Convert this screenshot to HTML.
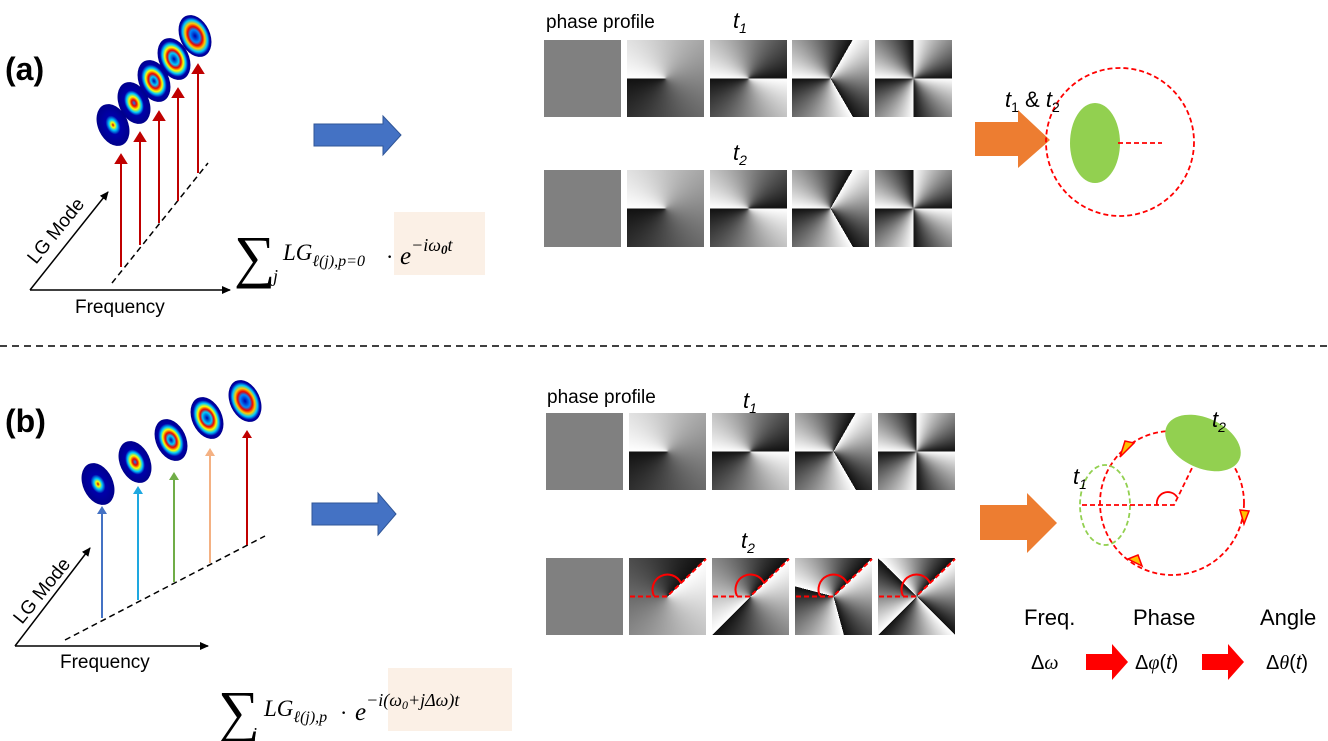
<!DOCTYPE html>
<html><head><meta charset="utf-8"><style>
body{margin:0;width:1328px;height:741px;background:#fff;position:relative;overflow:hidden;font-family:"Liberation Sans",sans-serif}
.t{position:absolute;width:77px;height:77px}
.g{background:#808080}
</style></head><body>
<div class="t g" style="left:544px;top:40px"></div>
<div class="t" style="left:627px;top:40px;background:conic-gradient(from 270deg,#fff,#111)"></div>
<div class="t" style="left:710px;top:40px;background:conic-gradient(from 270deg,#fff,#111 50%,#fff 50%,#111)"></div>
<div class="t" style="left:792px;top:40px;background:conic-gradient(from 270deg,#fff,#111 33.3%,#fff 33.3%,#111 66.6%,#fff 66.6%,#111)"></div>
<div class="t" style="left:875px;top:40px;background:conic-gradient(from 270deg,#fff,#111 25%,#fff 25%,#111 50%,#fff 50%,#111 75%,#fff 75%,#111)"></div>
<div class="t g" style="left:544px;top:170px"></div>
<div class="t" style="left:627px;top:170px;background:conic-gradient(from 270deg,#fff,#111)"></div>
<div class="t" style="left:710px;top:170px;background:conic-gradient(from 270deg,#fff,#111 50%,#fff 50%,#111)"></div>
<div class="t" style="left:792px;top:170px;background:conic-gradient(from 270deg,#fff,#111 33.3%,#fff 33.3%,#111 66.6%,#fff 66.6%,#111)"></div>
<div class="t" style="left:875px;top:170px;background:conic-gradient(from 270deg,#fff,#111 25%,#fff 25%,#111 50%,#fff 50%,#111 75%,#fff 75%,#111)"></div>
<div class="t g" style="left:546px;top:413px"></div>
<div class="t" style="left:629px;top:413px;background:conic-gradient(from 270deg,#fff,#111)"></div>
<div class="t" style="left:712px;top:413px;background:conic-gradient(from 270deg,#fff,#111 50%,#fff 50%,#111)"></div>
<div class="t" style="left:795px;top:413px;background:conic-gradient(from 270deg,#fff,#111 33.3%,#fff 33.3%,#111 66.6%,#fff 66.6%,#111)"></div>
<div class="t" style="left:878px;top:413px;background:conic-gradient(from 270deg,#fff,#111 25%,#fff 25%,#111 50%,#fff 50%,#111 75%,#fff 75%,#111)"></div>
<div class="t g" style="left:546px;top:558px"></div>
<div class="t" style="left:629px;top:558px;background:conic-gradient(from 45deg,#fff,#111)"></div>
<div class="t" style="left:712px;top:558px;background:conic-gradient(from 45deg,#fff,#111 50%,#fff 50%,#111)"></div>
<div class="t" style="left:795px;top:558px;background:conic-gradient(from 45deg,#fff,#111 33.3%,#fff 33.3%,#111 66.6%,#fff 66.6%,#111)"></div>
<div class="t" style="left:878px;top:558px;background:conic-gradient(from 45deg,#fff,#111 25%,#fff 25%,#111 50%,#fff 50%,#111 75%,#fff 75%,#111)"></div>

<svg width="1328" height="741" style="position:absolute;left:0;top:0">
<defs>
<radialGradient id="m1"><stop offset="0" stop-color="#c00"/><stop offset=".12" stop-color="#ff0"/><stop offset=".25" stop-color="#0cf"/><stop offset=".45" stop-color="#00a"/><stop offset="1" stop-color="#00008b"/></radialGradient>
<radialGradient id="m2"><stop offset="0" stop-color="#08f"/><stop offset=".15" stop-color="#e00"/><stop offset=".3" stop-color="#ff0"/><stop offset=".45" stop-color="#0cf"/><stop offset=".6" stop-color="#00a"/><stop offset="1" stop-color="#00008b"/></radialGradient>
<radialGradient id="m3"><stop offset="0" stop-color="#00a"/><stop offset=".2" stop-color="#0cf"/><stop offset=".35" stop-color="#e00"/><stop offset=".5" stop-color="#ff0"/><stop offset=".62" stop-color="#0cf"/><stop offset=".78" stop-color="#00a"/><stop offset="1" stop-color="#00008b"/></radialGradient>
<radialGradient id="m4"><stop offset="0" stop-color="#00a"/><stop offset=".28" stop-color="#0cf"/><stop offset=".42" stop-color="#e00"/><stop offset=".56" stop-color="#ff0"/><stop offset=".7" stop-color="#0cf"/><stop offset=".85" stop-color="#00a"/><stop offset="1" stop-color="#00008b"/></radialGradient>
<radialGradient id="m5"><stop offset="0" stop-color="#00a"/><stop offset=".3" stop-color="#08f"/><stop offset=".45" stop-color="#e00"/><stop offset=".6" stop-color="#fc0"/><stop offset=".75" stop-color="#0cf"/><stop offset=".9" stop-color="#00a"/><stop offset="1" stop-color="#00008b"/></radialGradient>
<marker id="ak" markerWidth="10" markerHeight="10" refX="8" refY="5" orient="auto" markerUnits="userSpaceOnUse"><path d="M0,1 L9,5 L0,9z" fill="#000"/></marker>
</defs>
<line x1="0" y1="346" x2="1328" y2="346" stroke="#000" stroke-width="1.5" stroke-dasharray="7,5"/>

<!-- (a) left -->
<line x1="30" y1="290" x2="230" y2="290" stroke="#000" stroke-width="1.5" marker-end="url(#ak)"/>
<line x1="30" y1="290" x2="108" y2="192" stroke="#000" stroke-width="1.5" marker-end="url(#ak)"/>
<line x1="112" y1="283" x2="208" y2="163" stroke="#000" stroke-width="1.5" stroke-dasharray="6,4"/>
<g stroke="#c00000" stroke-width="2" fill="#c00000">
<line x1="121" y1="267" x2="121" y2="162"/><path d="M116,163 L121,155 L126,163z"/>
<line x1="140" y1="245" x2="140" y2="140"/><path d="M135,141 L140,133 L145,141z"/>
<line x1="159" y1="223" x2="159" y2="119"/><path d="M154,120 L159,112 L164,120z"/>
<line x1="178" y1="201" x2="178" y2="96"/><path d="M173,97 L178,89 L183,97z"/>
<line x1="198" y1="173" x2="198" y2="72"/><path d="M193,73 L198,65 L203,73z"/>
</g>
<ellipse cx="113" cy="125" rx="15" ry="22" transform="rotate(-25 113 125)" fill="url(#m1)"/>
<ellipse cx="134" cy="103" rx="15" ry="22" transform="rotate(-25 134 103)" fill="url(#m2)"/>
<ellipse cx="154" cy="81" rx="15" ry="22" transform="rotate(-25 154 81)" fill="url(#m3)"/>
<ellipse cx="174" cy="59" rx="15" ry="22" transform="rotate(-25 174 59)" fill="url(#m4)"/>
<ellipse cx="195" cy="36" rx="15" ry="22" transform="rotate(-25 195 36)" fill="url(#m5)"/>
<text x="5" y="80" font-size="32" font-weight="bold">(a)</text>
<text x="75" y="313" font-size="19">Frequency</text>
<text transform="translate(36,265) rotate(-51)" font-size="19">LG Mode</text>
<rect x="394" y="212" width="91" height="63" fill="#fbf0e6"/>
<text x="234" y="276" font-size="58" font-family="Liberation Serif,serif">∑</text>
<text x="273" y="282" font-size="18" font-family="Liberation Serif,serif" font-style="italic">j</text>
<text x="283" y="260" font-size="23" font-family="Liberation Serif,serif" font-style="italic">LG<tspan font-size="16" dy="6">ℓ(j),p=0</tspan></text>
<text x="386" y="264" font-size="22" font-family="Liberation Serif,serif">·</text>
<text x="400" y="264" font-size="25" font-family="Liberation Serif,serif" font-style="italic">e<tspan font-size="18" dy="-13">−iω</tspan><tspan font-size="13" dy="3" font-weight="bold">0</tspan><tspan font-size="18" dy="-3">t</tspan></text>

<path d="M314,124 L383,124 L383,116 L401,135 L383,155 L383,146 L314,146z" fill="#4472c4" stroke="#2f5597" stroke-width="1"/>

<text x="546" y="28" font-size="19">phase profile</text>
<text x="733" y="28" font-size="22" font-style="italic">t<tspan font-size="14" dy="5">1</tspan></text>
<text x="733" y="160" font-size="22" font-style="italic">t<tspan font-size="14" dy="5">2</tspan></text>

<!-- (a) right -->
<path d="M975,122 L1018,122 L1018,110 L1050,140 L1018,168 L1018,156 L975,156z" fill="#ed7d31"/>
<circle cx="1120" cy="142" r="74" fill="none" stroke="#f00" stroke-width="1.8" stroke-dasharray="5,3"/>
<ellipse cx="1095" cy="143" rx="25" ry="40" fill="#92d050"/>
<line x1="1118" y1="143" x2="1162" y2="143" stroke="#f00" stroke-width="1.8" stroke-dasharray="5,3"/>
<text x="1005" y="107" font-size="22"><tspan font-style="italic">t</tspan><tspan font-size="14" dy="5">1</tspan><tspan dy="-5"> &amp; </tspan><tspan font-style="italic">t</tspan><tspan font-size="14" dy="5">2</tspan></text>

<!-- (b) left -->
<line x1="15" y1="646" x2="208" y2="646" stroke="#000" stroke-width="1.5" marker-end="url(#ak)"/>
<line x1="15" y1="646" x2="90" y2="548" stroke="#000" stroke-width="1.5" marker-end="url(#ak)"/>
<line x1="65" y1="640" x2="265" y2="536" stroke="#000" stroke-width="1.5" stroke-dasharray="6,4"/>
<g stroke-width="2">
<line x1="102" y1="618" x2="102" y2="512" stroke="#4472c4"/><path d="M97,514 L102,506 L107,514z" fill="#4472c4"/>
<line x1="138" y1="600" x2="138" y2="492" stroke="#1ea8e0"/><path d="M133,494 L138,486 L143,494z" fill="#1ea8e0"/>
<line x1="174" y1="582" x2="174" y2="478" stroke="#70ad47"/><path d="M169,480 L174,472 L179,480z" fill="#70ad47"/>
<line x1="210" y1="563" x2="210" y2="454" stroke="#f4b183"/><path d="M205,456 L210,448 L215,456z" fill="#f4b183"/>
<line x1="247" y1="545" x2="247" y2="436" stroke="#c00000"/><path d="M242,438 L247,430 L252,438z" fill="#c00000"/>
</g>
<ellipse cx="98" cy="484" rx="15" ry="22" transform="rotate(-25 98 484)" fill="url(#m1)"/>
<ellipse cx="135" cy="462" rx="15" ry="22" transform="rotate(-25 135 462)" fill="url(#m2)"/>
<ellipse cx="171" cy="440" rx="15" ry="22" transform="rotate(-25 171 440)" fill="url(#m3)"/>
<ellipse cx="207" cy="418" rx="15" ry="22" transform="rotate(-25 207 418)" fill="url(#m4)"/>
<ellipse cx="245" cy="401" rx="15" ry="22" transform="rotate(-25 245 401)" fill="url(#m5)"/>
<text x="5" y="432" font-size="32" font-weight="bold">(b)</text>
<text x="60" y="668" font-size="19">Frequency</text>
<text transform="translate(22,625) rotate(-51)" font-size="19">LG Mode</text>
<rect x="388" y="668" width="124" height="63" fill="#fbf0e6"/>
<text x="218" y="731" font-size="58" font-family="Liberation Serif,serif">∑</text>
<text x="252" y="740" font-size="18" font-family="Liberation Serif,serif" font-style="italic">j</text>
<text x="264" y="716" font-size="23" font-family="Liberation Serif,serif" font-style="italic">LG<tspan font-size="16" dy="6">ℓ(j),p</tspan></text>
<text x="340" y="720" font-size="22" font-family="Liberation Serif,serif">·</text>
<text x="355" y="720" font-size="25" font-family="Liberation Serif,serif" font-style="italic">e<tspan font-size="18" dy="-14">−i(ω</tspan><tspan font-size="12" dy="3">0</tspan><tspan font-size="18" dy="-3">+jΔω)t</tspan></text>

<path d="M312,503 L378,503 L378,493 L396,514 L378,535 L378,525 L312,525z" fill="#4472c4" stroke="#2f5597" stroke-width="1"/>

<text x="547" y="403" font-size="19">phase profile</text>
<text x="743" y="408" font-size="22" font-style="italic">t<tspan font-size="14" dy="5">1</tspan></text>
<text x="741" y="548" font-size="22" font-style="italic">t<tspan font-size="14" dy="5">2</tspan></text>
<g stroke="#f00" stroke-width="2" fill="none" stroke-dasharray="5,3">
<path d="M630,596.5 L667,596.5 L706,559"/>
<path d="M713,596.5 L750,596.5 L789,559"/>
<path d="M796,596.5 L833,596.5 L872,559"/>
<path d="M879,596.5 L916,596.5 L955,559"/>
</g>
<g stroke="#f00" stroke-width="2" fill="none">
<path d="M654,596 A14,14 0 0 1 681,583"/>
<path d="M737,596 A14,14 0 0 1 764,583"/>
<path d="M820,596 A14,14 0 0 1 847,583"/>
<path d="M903,596 A14,14 0 0 1 930,583"/>
</g>

<!-- (b) right -->
<path d="M980,505 L1027,505 L1027,493 L1057,523 L1027,553 L1027,540 L980,540z" fill="#ed7d31"/>
<circle cx="1172" cy="503" r="72" fill="none" stroke="#f00" stroke-width="1.8" stroke-dasharray="5,3"/>
<ellipse cx="1105" cy="505" rx="25" ry="40" fill="none" stroke="#92d050" stroke-width="1.8" stroke-dasharray="5,3"/>
<ellipse cx="1203" cy="443" rx="40" ry="25" transform="rotate(25 1203 443)" fill="#92d050"/>
<path d="M1082,505 L1174,505 L1193,466" stroke="#f00" stroke-width="1.8" fill="none" stroke-dasharray="5,3"/>
<path d="M1157,505 A11,11 0 0 1 1177,497" stroke="#f00" stroke-width="1.8" fill="none"/>
<path d="M1120,457 L1134,443 L1125,441z" fill="#ffc000" stroke="#f00" stroke-width="1.5"/>
<path d="M1240,510 L1244,524 L1249,511z" fill="#ffc000" stroke="#f00" stroke-width="1.5"/>
<path d="M1142,566 L1128,559 L1138,555z" fill="#ffc000" stroke="#f00" stroke-width="1.5"/>
<text x="1212" y="427" font-size="22" font-style="italic">t<tspan font-size="14" dy="5">2</tspan></text>
<text x="1073" y="484" font-size="22" font-style="italic">t<tspan font-size="14" dy="5">1</tspan></text>
<text x="1024" y="625" font-size="22">Freq.</text>
<text x="1133" y="625" font-size="22">Phase</text>
<text x="1260" y="625" font-size="22">Angle</text>
<text x="1031" y="669" font-size="20">Δ<tspan font-style="italic" font-family="Liberation Serif,serif">ω</tspan></text>
<text x="1135" y="669" font-size="20">Δ<tspan font-style="italic" font-family="Liberation Serif,serif">φ</tspan>(<tspan font-style="italic">t</tspan>)</text>
<text x="1266" y="669" font-size="20">Δ<tspan font-style="italic" font-family="Liberation Serif,serif">θ</tspan>(<tspan font-style="italic">t</tspan>)</text>
<path d="M1086,654 L1112,654 L1112,644 L1128,662 L1112,680 L1112,670 L1086,670z" fill="#f00"/>
<path d="M1202,654 L1228,654 L1228,644 L1244,662 L1228,680 L1228,670 L1202,670z" fill="#f00"/>
</svg>
</body></html>
